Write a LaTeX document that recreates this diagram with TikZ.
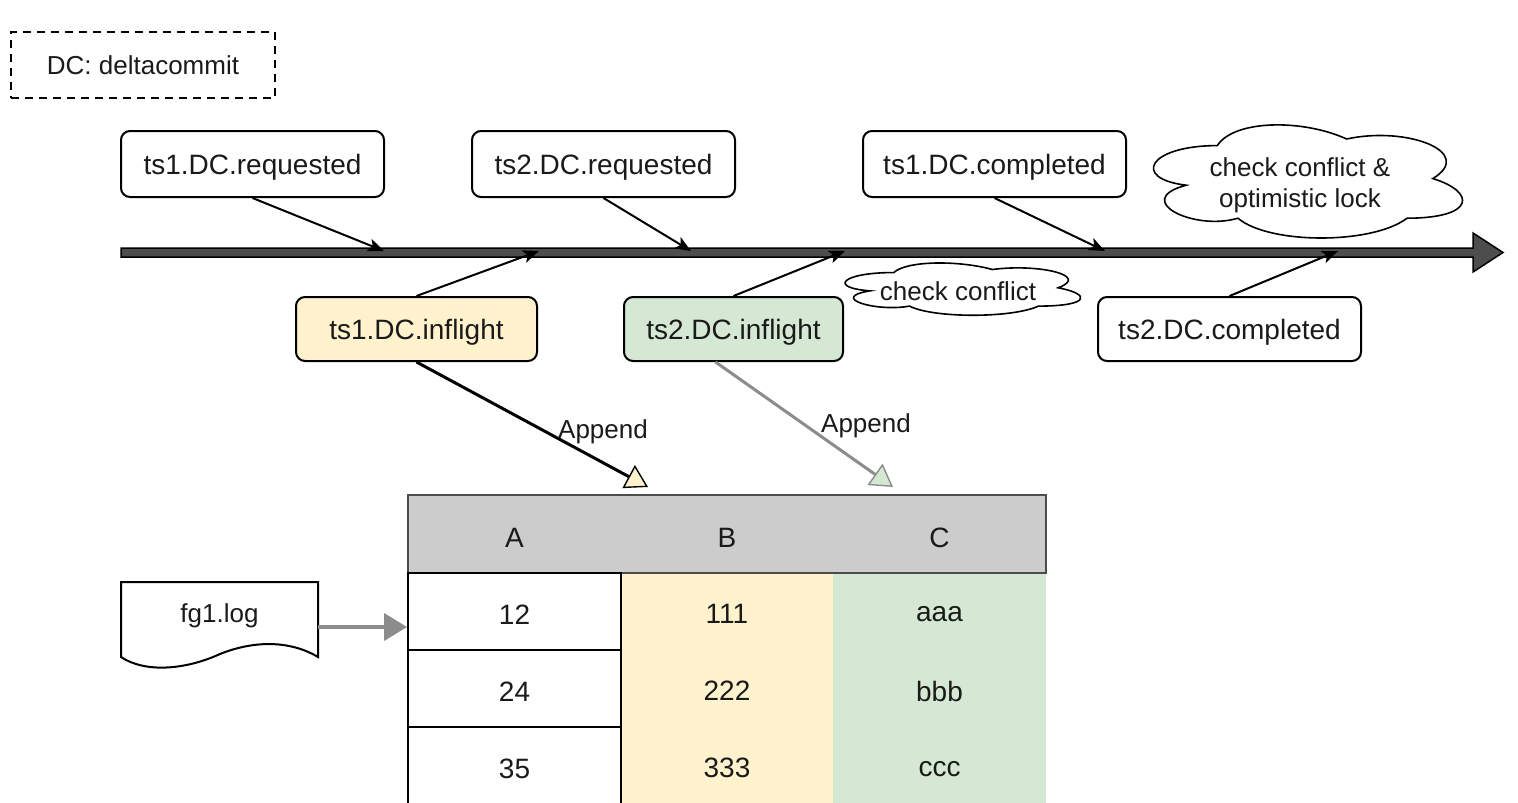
\documentclass[tikz,border=0pt]{standalone}
\usepackage{fontspec}
\setmainfont{Liberation Sans}
\usetikzlibrary{arrows.meta,calc}

\definecolor{yellowfill}{HTML}{FFF2CC}
\definecolor{greenfill}{HTML}{D5E8D4}
\definecolor{headfill}{HTML}{CCCCCC}
\definecolor{linkgrey}{HTML}{8C8C8C}
\definecolor{barfill}{HTML}{4D4D4D}
\definecolor{ink}{HTML}{1A1A1A}

% cloud outline (x0, y0, width, height), same outline as a flowchart "cloud"
\newcommand\cloudpath[4]{%
  \draw[cloudline, shift={(#1,#2)}, xscale=#3, yscale=#4]
    (0.25,0.25) .. controls (0.05,0.25) and (0,0.5) .. (0.16,0.55)
    .. controls (0,0.66) and (0.18,0.9) .. (0.31,0.8)
    .. controls (0.4,1) and (0.7,1) .. (0.8,0.8)
    .. controls (1,0.8) and (1,0.6) .. (0.875,0.5)
    .. controls (1,0.3) and (0.8,0.1) .. (0.625,0.2)
    .. controls (0.5,0.05) and (0.3,0.05) .. (0.25,0.25) -- cycle;}

\begin{document}
\begin{tikzpicture}[x=1pt,y=-1pt,
  txt/.style={font=\fontsize{26}{31}\selectfont, text=ink, text depth=0pt},
  bigtxt/.style={font=\fontsize{28}{33}\selectfont, text=ink, text depth=0pt},
  event/.style={bigtxt, draw=black, line width=2pt, rounded corners=9pt,
    minimum width=263pt, minimum height=66pt, inner sep=0pt},
  cloudline/.style={draw=black, line width=1.6pt, fill=white},
  tick/.style={line width=2pt, -{Stealth[length=16pt,width=13pt,inset=4pt]}},
  cellA/.style={bigtxt, draw=black, line width=2pt, fill=white, text height=25pt,
    minimum width=213pt, minimum height=77pt, inner sep=0pt},
  cell/.style={bigtxt, inner sep=0pt},
]
\useasboundingbox (0,0) rectangle (1518,803);
\clip (0,0) rectangle (1518,803);
\fill[white] (0,0) rectangle (1518,803);

% legend
\node[txt, draw=black, line width=2pt, dash pattern=on 8pt off 6pt,
  minimum width=264pt, minimum height=66pt, inner sep=0pt] (dc) at (143,65) {DC: deltacommit};

% time axis
\filldraw[fill=barfill, draw=black, line width=1.5pt]
  (121,248) -- (1473,248) -- (1473,233) -- (1503,252.5) -- (1473,272)
  -- (1473,257) -- (121,257) -- cycle;
\coordinate (t1) at (384,251);
\coordinate (t2) at (539,251);
\coordinate (t3) at (691,251);
\coordinate (t4) at (845,251);
\coordinate (t5) at (1105,251);
\coordinate (t6) at (1338,251);

% events above the axis
\node[event] (r1) at (252.5,164) {ts1.DC.requested};
\node[event] (r2) at (603.5,164) {ts2.DC.requested};
\node[event] (c1) at (994.5,164) {ts1.DC.completed};

% events below the axis
\node[event, fill=yellowfill, minimum width=241pt, minimum height=64pt] (i1) at (416.5,329) {ts1.DC.inflight};
\node[event, fill=greenfill, minimum width=219pt, minimum height=64pt] (i2) at (733.5,329) {ts2.DC.inflight};
\node[event, minimum height=64pt] (c2) at (1229.5,329) {ts2.DC.completed};

\draw[tick] (r1.south) -- (t1);
\draw[tick] (i1.north) -- (t2);
\draw[tick] (r2.south) -- (t3);
\draw[tick] (i2.north) -- (t4);
\draw[tick] (c1.south) -- (t5);
\draw[tick] (c2.north) -- (t6);

% clouds
\cloudpath{1131}{112.6}{345}{132}
\node[txt, align=center, inner sep=0pt] (lock) at (1300,183) {check conflict \&\\optimistic lock};
\cloudpath{828}{257.3}{263}{61}
\node[txt, inner sep=0pt] (chk) at (958,291) {check conflict};

% table
\fill[yellowfill] (621,573) rectangle (833,810);
\fill[greenfill] (833,573) rectangle (1046,810);
\node[draw=black!70, line width=1.2pt, fill=headfill, minimum width=638pt,
  minimum height=78pt, inner sep=0pt] (head) at (727,534) {};
\node[cell] (hA) at (514.5,538) {A};
\node[cell] (hB) at (727,538) {B};
\node[cell] (hC) at (939.5,538) {C};

\node[cellA] (a1) at (514.5,611.5) {12};
\node[cellA] (a2) at (514.5,688.5) {24};
\node[cellA] (a3) at (514.5,765.5) {35};
\node[cell] (b1) at (727,614) {111};
\node[cell] (b2) at (727,691) {222};
\node[cell] (b3) at (727,768) {333};
\node[cell] (cc1) at (939.5,614) {aaa};
\node[cell] (cc2) at (939.5,691) {bbb};
\node[cell] (cc3) at (939.5,769) {ccc};

% appends into the table
\coordinate (p1) at (648,487);
\coordinate (p2) at (893,487);
\draw[line width=3pt, -{Triangle[length=22pt,width=26pt,fill=yellowfill,line width=1.4pt]}]
  (i1.south) -- (p1);
\draw[linkgrey, line width=3pt, -{Triangle[length=22pt,width=26pt,fill=greenfill,line width=1.4pt]}]
  ([xshift=-18pt]i2.south) -- (p2);
\node[txt, inner sep=0pt] (ap1) at (603,429) {Append};
\node[txt, inner sep=0pt] (ap2) at (866,423) {Append};

% log file: document outline with a wavy bottom edge
\draw[line width=2pt, fill=white]
  (121,582) -- (318,582) -- (318,657)
  .. controls (295,643) and (260,638) .. (220,654)
  .. controls (185,670) and (145,673) .. (121,657) -- cycle;
\node[txt, minimum width=197pt, minimum height=62pt, inner sep=0pt] (log) at (219.5,613) {fg1.log};
\draw[linkgrey, line width=4pt, -{Triangle[length=23pt,width=27pt]}]
  ([yshift=-14pt]log.east) -- ([yshift=-15.5pt]a1.west);
\end{tikzpicture}
\end{document}
